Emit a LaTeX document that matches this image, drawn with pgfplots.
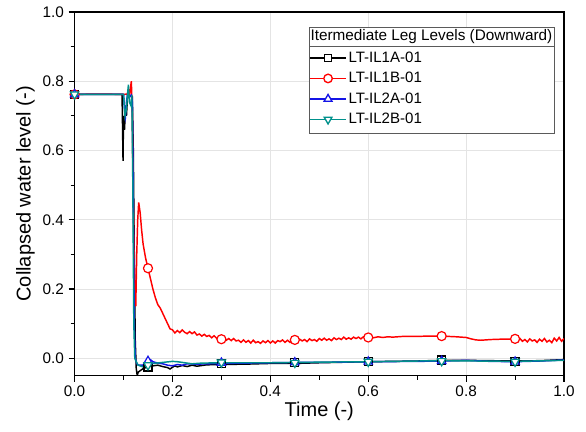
\documentclass[border=0pt]{standalone}
\usepackage{pgfplots}
\pgfplotsset{compat=1.18}
\usepackage{fontspec}
\setmainfont{Liberation Sans}
\definecolor{tealc}{RGB}{0,145,140}
\definecolor{bluec}{RGB}{20,20,230}
\definecolor{gridc}{RGB}{228,228,228}
\definecolor{legc}{RGB}{90,90,90}
\begin{document}
\begin{tikzpicture}
\begin{axis}[
 at={(0,0)}, anchor=south west, scale only axis,
 width=367.5pt, height=273pt,
 xmin=0, xmax=1, ymin=-0.05, ymax=1.0,
 xtick={0,0.2,0.4,0.6,0.8,1.0}, ytick={0,0.2,0.4,0.6,0.8,1.0},
 minor xtick={0.1,0.3,0.5,0.7,0.9}, minor ytick={0.1,0.3,0.5,0.7,0.9},
 xticklabel style={/pgf/number format/fixed,/pgf/number format/precision=1,/pgf/number format/fixed zerofill},
 yticklabel style={/pgf/number format/fixed,/pgf/number format/precision=1,/pgf/number format/fixed zerofill},
 /pgf/number format/assume math mode=true,
 tick label style={font=\fontsize{11.5}{13}\selectfont},
 label style={font=\fontsize{15}{18}\selectfont},
 xlabel={Time (-)}, ylabel={Collapsed water level (-)},
 xlabel style={yshift=3pt},
 ylabel style={yshift=-1pt},
 tick align=outside, tick pos=left,
 major tick length=4.5pt, minor tick length=3pt,
 axis line style={line width=0.9pt},
 every tick/.style={black, line width=0.8pt},
 grid=major, major grid style={gridc, line width=0.5pt},
 legend style={at={(rel axis cs:0.4796,0.897)}, anchor=north west, draw=none, fill=none,
   font=\fontsize{11.3}{13}\selectfont, inner sep=0pt, row sep=3pt, column sep=0pt,
   nodes={inner sep=1.5pt}},
 legend cell align=left,
 legend image code/.code={\draw[mark repeat=2,mark phase=2,#1] plot coordinates {(0cm,0cm) (0.47cm,0cm) (0.94cm,0cm)};},
]
% legend frame and title
\filldraw[draw=legc, fill=white, line width=0.5pt] (rel axis cs:0.4796,0.6676) rectangle (rel axis cs:0.9796,0.9588);
\draw[legc, line width=0.5pt] (rel axis cs:0.4796,0.9066) -- (rel axis cs:0.9796,0.9066);
\node[anchor=west, inner sep=0pt, font=\fontsize{11.5}{13}\selectfont] at (rel axis cs:0.4816,0.9327) {Itermediate Leg Levels (Downward)};
% lines
\addplot[black, line width=1.1pt, forget plot] coordinates {
(0,0.762)(0.05,0.762)(0.097,0.762)(0.099,0.57)(0.100,0.70)(0.102,0.66)(0.104,0.72)(0.106,0.70)(0.108,0.75)(0.112,0.76)(0.118,0.755)(0.120,0.60)(0.122,0.30)(0.124,0.05)(0.126,-0.03)(0.128,-0.05)(0.130,-0.04)(0.135,-0.035)(0.14,-0.03)(0.15,-0.025)(0.16,-0.022)(0.17,-0.02)(0.18,-0.024)(0.19,-0.027)(0.195,-0.031)(0.2,-0.026)(0.205,-0.022)(0.21,-0.025)(0.22,-0.021)(0.23,-0.024)(0.24,-0.02)(0.25,-0.023)(0.27,-0.019)(0.3,-0.018)(0.35,-0.017)(0.4,-0.015)(0.45,-0.015)(0.5,-0.013)(0.6,-0.01)(0.7,-0.008)(0.75,-0.006)(0.8,-0.006)(0.9,-0.008)(0.95,-0.007)(1.0,-0.004)};
\addplot[red, line width=1.1pt, forget plot] coordinates {
(0,0.762)(0.05,0.763)(0.10,0.762)(0.108,0.763)(0.110,0.775)(0.112,0.76)(0.114,0.78)(0.116,0.80)(0.118,0.70)(0.119,0.55)(0.121,0.35)(0.123,0.18)(0.125,0.15)(0.127,0.30)(0.129,0.40)(0.131,0.45)(0.134,0.42)(0.137,0.37)(0.140,0.33)(0.145,0.29)(0.150,0.26)(0.155,0.23)(0.160,0.20)(0.165,0.175)(0.170,0.155)(0.175,0.145)(0.180,0.13)(0.185,0.115)(0.190,0.10)(0.195,0.085)
(0.200,0.082)(0.205,0.073)(0.210,0.080)(0.215,0.074)(0.220,0.082)(0.225,0.075)(0.230,0.071)(0.235,0.077)(0.240,0.071)(0.245,0.076)(0.250,0.067)(0.255,0.070)(0.260,0.064)(0.265,0.069)(0.270,0.063)(0.275,0.066)(0.280,0.059)(0.285,0.065)(0.290,0.058)(0.295,0.060)
(0.300,0.055)(0.305,0.060)(0.310,0.052)(0.315,0.057)(0.320,0.051)(0.325,0.057)(0.330,0.050)(0.335,0.052)(0.340,0.046)(0.345,0.053)(0.350,0.046)(0.355,0.051)(0.360,0.044)(0.365,0.052)(0.370,0.045)(0.375,0.048)(0.380,0.043)(0.385,0.050)(0.390,0.045)(0.395,0.051)
(0.400,0.044)(0.405,0.050)(0.410,0.044)(0.415,0.051)(0.420,0.048)(0.425,0.053)(0.430,0.046)(0.435,0.052)(0.440,0.046)(0.445,0.053)(0.450,0.052)(0.455,0.048)(0.460,0.055)(0.465,0.050)(0.470,0.054)(0.475,0.048)(0.480,0.056)(0.485,0.051)(0.490,0.054)(0.495,0.049)
(0.500,0.057)(0.505,0.052)(0.510,0.058)(0.515,0.052)(0.520,0.056)(0.525,0.051)(0.530,0.059)(0.535,0.054)(0.540,0.058)(0.545,0.054)(0.550,0.061)(0.555,0.055)(0.560,0.059)(0.565,0.055)(0.570,0.061)(0.575,0.057)(0.580,0.061)(0.585,0.056)(0.590,0.062)(0.595,0.059)
(0.60,0.061)(0.61,0.059)(0.62,0.062)(0.63,0.060)(0.64,0.062)(0.65,0.061)(0.67,0.063)(0.70,0.063)(0.72,0.064)(0.75,0.064)(0.78,0.062)(0.80,0.060)(0.81,0.056)(0.82,0.053)(0.83,0.052)(0.85,0.054)(0.87,0.055)(0.89,0.055)
(0.900,0.056)(0.905,0.050)(0.910,0.057)(0.915,0.049)(0.920,0.054)(0.925,0.047)(0.930,0.056)(0.935,0.050)(0.940,0.053)(0.945,0.046)(0.950,0.055)(0.955,0.049)(0.960,0.057)(0.965,0.047)(0.970,0.052)(0.975,0.045)(0.980,0.058)(0.985,0.050)(0.990,0.060)(0.995,0.049)(1.000,0.057)};
\addplot[bluec, line width=1.1pt, forget plot] coordinates {
(0,0.762)(0.05,0.762)(0.1,0.762)(0.102,0.72)(0.104,0.70)(0.106,0.74)(0.108,0.76)(0.112,0.755)(0.116,0.76)(0.118,0.74)(0.120,0.45)(0.122,0.10)(0.124,0.0)(0.127,-0.015)(0.13,-0.02)(0.14,-0.02)(0.145,-0.012)(0.15,-0.006)(0.155,-0.004)(0.16,-0.01)(0.17,-0.014)(0.18,-0.016)(0.19,-0.02)(0.2,-0.022)(0.21,-0.018)(0.22,-0.02)(0.23,-0.016)(0.25,-0.017)(0.3,-0.015)(0.35,-0.014)(0.4,-0.013)(0.45,-0.012)(0.5,-0.012)(0.6,-0.01)(0.7,-0.009)(0.75,-0.008)(0.8,-0.006)(0.85,-0.009)(0.9,-0.01)(0.95,-0.008)(1.0,-0.005)};
\addplot[tealc, line width=1.1pt, forget plot] coordinates {
(0,0.762)(0.05,0.762)(0.1,0.762)(0.103,0.70)(0.106,0.72)(0.108,0.76)(0.110,0.79)(0.112,0.74)(0.115,0.73)(0.117,0.76)(0.119,0.50)(0.121,0.10)(0.123,0.0)(0.126,-0.01)(0.13,-0.02)(0.14,-0.025)(0.15,-0.02)(0.16,-0.015)(0.18,-0.012)(0.2,-0.009)(0.21,-0.01)(0.22,-0.012)(0.24,-0.016)(0.26,-0.014)(0.3,-0.013)(0.4,-0.013)(0.45,-0.012)(0.6,-0.01)(0.75,-0.007)(0.9,-0.009)(1.0,-0.006)};
% marks
\addplot[black, only marks, mark=square, mark size=3pt, mark options={fill=white, line width=0.9pt}, forget plot] coordinates {(0,0.762)(0.15,-0.025)(0.3,-0.015)(0.45,-0.013)(0.6,-0.01)(0.75,-0.005)(0.9,-0.009)};
\addplot[red, only marks, mark=*, mark size=3.4pt, mark options={fill=white, line width=0.9pt}, forget plot] coordinates {(0,0.762)(0.15,0.26)(0.3,0.055)(0.45,0.053)(0.6,0.06)(0.75,0.064)(0.9,0.056)};
\addplot[bluec, only marks, mark=triangle*, mark size=3.6pt, mark options={fill=white, line width=0.9pt}, forget plot] coordinates {(0,0.762)(0.15,-0.008)(0.3,-0.013)(0.45,-0.012)(0.6,-0.01)(0.75,-0.008)(0.9,-0.01)};
\addplot[tealc, only marks, mark=triangle*, mark size=3.6pt, mark options={fill=white, line width=0.9pt, rotate=180}, forget plot] coordinates {(0,0.762)(0.15,-0.02)(0.3,-0.012)(0.45,-0.013)(0.6,-0.01)(0.75,-0.008)(0.9,-0.01)};
% legend
\addlegendimage{black, line width=1pt, mark=square*, mark size=2.8pt, mark options={fill=white}}
\addlegendentry{LT-IL1A-01}
\addlegendimage{red, line width=1pt, mark=*, mark size=3.2pt, mark options={fill=white}}
\addlegendentry{LT-IL1B-01}
\addlegendimage{bluec, line width=1pt, mark=triangle*, mark size=3.4pt, mark options={fill=white}}
\addlegendentry{LT-IL2A-01}
\addlegendimage{tealc, line width=1pt, mark=triangle*, mark size=3.4pt, mark options={fill=white, rotate=180}}
\addlegendentry{LT-IL2B-01}
\end{axis}
\pgfresetboundingbox
\path[use as bounding box] (-56pt,-42pt) rectangle (384pt,282pt);
\end{tikzpicture}
\end{document}
